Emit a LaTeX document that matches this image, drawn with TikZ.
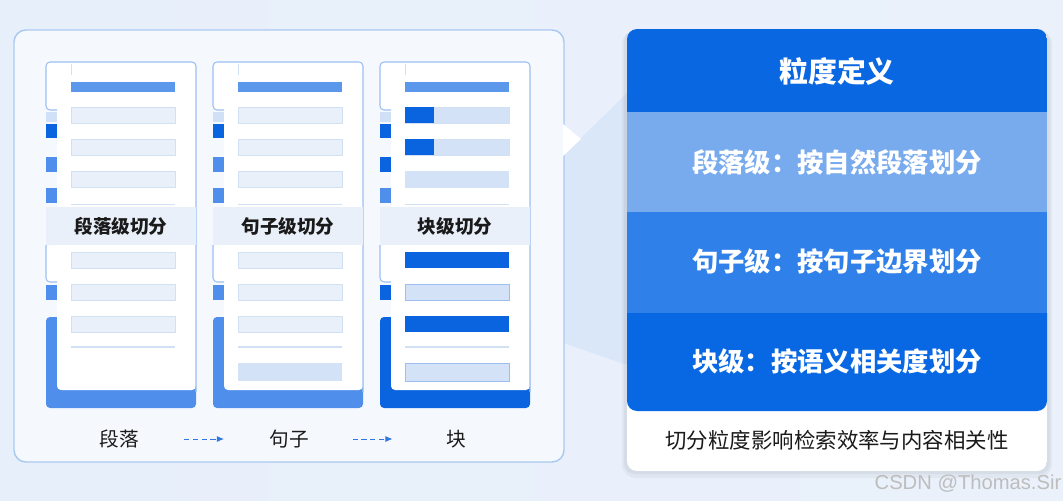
\documentclass[tikz,border=0pt]{standalone}
\usepackage{fontspec}
\usepackage{tikz}
\usetikzlibrary{
  arrows.meta,
  positioning,
  calc
}
\newfontfamily\cjk{Noto Sans CJK SC}
\newfontfamily\markfont{Liberation Sans}
\definecolor{FigText}{HTML}{1A1A1A}
\definecolor{FigBack}{HTML}{EAF1FB}
\definecolor{FigBackLeft}{HTML}{E7EFFA}
\definecolor{FigPanel}{HTML}{F5F9FE}
\definecolor{FigPanelEdge}{HTML}{A9C8F0}
\definecolor{FigBeam}{HTML}{D5E4F8}
\definecolor{FigCardEdge}{HTML}{9CBFEF}
\definecolor{FigStripLight}{HTML}{CFE0F7}
\definecolor{FigStripMid}{HTML}{4F8FEB}
\definecolor{FigStripDeep}{HTML}{0A64E0}
\definecolor{FigLineBlue}{HTML}{5B98EC}
\definecolor{FigLinePale}{HTML}{EAF0F9}
\definecolor{FigLineEdge}{HTML}{D2E0F4}
\definecolor{FigLineLight}{HTML}{D3E2F7}
\definecolor{FigBand}{HTML}{E9F0F9}
\definecolor{FigHead}{HTML}{0967E1}
\definecolor{FigRowOne}{HTML}{78AAEE}
\definecolor{FigRowTwo}{HTML}{3080E9}
\definecolor{FigRowThree}{HTML}{0867E2}
\definecolor{FigArrow}{HTML}{2F78E2}
\definecolor{FigMark}{HTML}{BDBDBD}

\begin{document}
\begin{tikzpicture}[
x=0.02cm, y=-0.02cm,
>=Latex,
every node/.style={text=FigText, font=\cjk},
cardlabel/.style={
font=\cjk\bfseries\fontsize{10.6}{12}\selectfont
},
steplabel/.style={
font=\cjk\fontsize{11.2}{13}\selectfont
},
headtext/.style={
text=white,
font=\cjk\bfseries\fontsize{16.4}{19}\selectfont
},
rowtext/.style={
text=white,
font=\cjk\bfseries\fontsize{15}{18}\selectfont
},
notetext/.style={
font=\cjk\fontsize{12.2}{14}\selectfont
},
paleline/.style={
fill=FigLinePale,
draw=FigLineEdge,
line width=0.3pt
},
cardedge/.style={
draw=FigCardEdge,
line width=0.6pt,
rounded corners=2.3pt
},
flowarrow/.style={
->,
densely dashed,
draw=FigArrow,
line width=0.5pt,
>={Latex[length=4pt,width=3.4pt]}
}
]
\useasboundingbox (0,0) rectangle (1063,501);

% Background and left panel
\shade[left color=FigBackLeft, right color=FigBack] (0,0) rectangle (1063,501);
\fill[FigBeam, opacity=0.7] (563,157) -- (580,139) -- (627,93) -- (627,365) -- (563,343) -- cycle;
\draw[fill=FigPanel, draw=FigPanelEdge, line width=0.8pt, rounded corners=6.8pt]
  (14,30) rectangle (564,462);
\fill[white] (563,124) -- (581,139) -- (563,156) -- cycle;

% Document cards - common parts
\foreach \cx/\cc in {46/FigStripMid, 213/FigStripMid, 380/FigStripDeep}{
  \fill[\cc, rounded corners=2.3pt] (\cx,317) rectangle (\cx+150,408);
  \fill[white, rounded corners=2.3pt] (\cx+11,62) rectangle (\cx+150,390);
  \fill[white, rounded corners=2.3pt] (\cx,62) rectangle (\cx+14,110);
  \fill[white, rounded corners=2.3pt] (\cx,245) rectangle (\cx+14,282);
  \draw[cardedge] (\cx+11,110) -- (\cx,110) -- (\cx,62) -- (\cx+150,62) -- (\cx+150,392);
  \draw[cardedge] (\cx,245) -- (\cx,282) -- (\cx+11,282);
  \fill[FigStripLight] (\cx,112) rectangle (\cx+11,122);
  \fill[FigStripDeep] (\cx,124) rectangle (\cx+11,138);
  \fill[\cc] (\cx,157) rectangle (\cx+11,172);
  \fill[FigStripMid] (\cx,188) rectangle (\cx+11,203);
  \fill[\cc] (\cx,285) rectangle (\cx+11,300);
  \fill[FigBand] (\cx,207) rectangle (\cx+150,245);
  \draw[FigLineEdge, line width=0.4pt] (\cx+25,64) -- (\cx+25,75);
  \fill[FigLineBlue] (\cx+25,82) rectangle (\cx+129,92);
  \draw[FigLineEdge, line width=0.5pt] (\cx+25,204) -- (\cx+129,204);
  \draw[FigLineEdge, line width=0.6pt] (\cx+25,347) -- (\cx+129,347);
}

% Text lines of paragraph and sentence cards
\foreach \cx in {46,213}{
  \foreach \ly in {107,139,171,252,284,316}{
    \draw[paleline] (\cx+25,\ly) rectangle (\cx+129,\ly+16);
  }
}
\fill[FigLineLight] (238,363) rectangle (342,381);

% Text lines of block card
\draw[paleline, fill=FigLineLight] (405,107) rectangle (509,123);
\draw[paleline, fill=FigLineLight] (405,139) rectangle (509,155);
\fill[FigStripDeep] (405,107) rectangle (434,123);
\fill[FigStripDeep] (405,139) rectangle (434,155);
\fill[FigLineLight] (405,171) rectangle (509,188);
\fill[FigStripDeep] (405,252) rectangle (509,268);
\draw[draw=FigCardEdge, fill=FigLineLight, line width=0.5pt] (405,284) rectangle (509,300);
\fill[FigStripDeep] (405,316) rectangle (509,332);
\draw[draw=FigCardEdge, fill=FigLineLight, line width=0.5pt] (405,363) rectangle (509,381);

% Card labels
\node[cardlabel] (cutPara) at (121,226) {段落级切分};
\node[cardlabel] (cutSent) at (288,226) {句子级切分};
\node[cardlabel] (cutBlock) at (455,226) {块级切分};

% Steps below the cards
\node[steplabel] (lblPara) at (119,439) {段落};
\node[steplabel] (lblSent) at (289,439) {句子};
\node[steplabel] (lblBlock) at (456,439) {块};
\draw[flowarrow] ($(lblPara)!0.5!(lblSent)+(-20,0)$) -- ($(lblPara)!0.5!(lblSent)+(20,0)$);
\draw[flowarrow] ($(lblSent)!0.5!(lblBlock)+(-20,0)$) -- ($(lblSent)!0.5!(lblBlock)+(20,0)$);

% Right panel - granularity definitions
\fill[black, opacity=0.04, rounded corners=8pt] (622,30) rectangle (1052,478);
\fill[black, opacity=0.04, rounded corners=6pt] (624,31) rectangle (1050,474);
\begin{scope}
\clip[rounded corners=5.7pt] (627,29) rectangle (1047,471);
\fill[white] (627,29) rectangle (1047,471);
\fill[FigHead] (627,29) rectangle (1047,112);
\fill[FigRowOne] (627,112) rectangle (1047,212);
\fill[FigRowTwo] (627,212) rectangle (1047,313);
\fill[FigRowThree, rounded corners=5.7pt] (627,313) -- (627,411) -- (1047,411) -- (1047,313);
\end{scope}

\node[headtext] (defHead) at (837,71) {粒度定义};
\node[rowtext] (defPara) at (837,162) {段落级：按自然段落划分};
\node[rowtext] (defSent) at (837,262) {句子级：按句子边界划分};
\node[rowtext] (defBlock) at (837,361) {块级：按语义相关度划分};
\node[notetext] (defNote) at (837,440) {切分粒度影响检索效率与内容相关性};

\node[font=\markfont\fontsize{11.5}{13}\selectfont, text=FigMark] (mark) at (968,484) {CSDN @Thomas.Sir};

\end{tikzpicture}
\end{document}
